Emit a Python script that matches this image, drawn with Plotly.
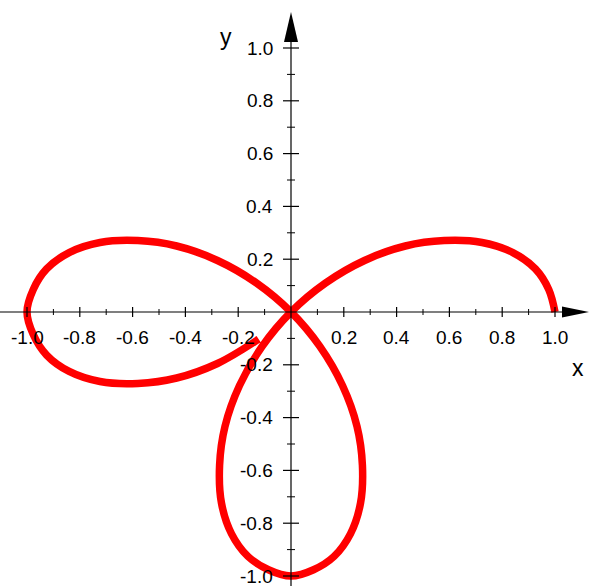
import numpy as np
import plotly.graph_objects as go

# Rose curve r(theta), sampled at 5 degree steps (theta in degrees)
theta_deg = [0, 5, 10, 15, 20, 25, 30, 35, 40, 45, 50, 55, 60, 65, 70, 75, 80, 85, 90,
             95, 100, 105, 110, 115, 120, 125, 130, 135, 140, 145, 150, 155, 160, 165,
             170, 175, 180, 185, 190, 195, 200, 205, 210, 215, 220]
r_vals = [1.00, 0.98, 0.94, 0.87, 0.77, 0.64, 0.50, 0.34, 0.17, 0.00, -0.17, -0.34, -0.50,
          -0.64, -0.77, -0.87, -0.94, -0.98, -1.00, -0.98, -0.94, -0.87, -0.77, -0.64,
          -0.50, -0.34, -0.17, 0.00, 0.17, 0.34, 0.50, 0.64, 0.77, 0.87, 0.94, 0.98,
          1.00, 0.98, 0.94, 0.87, 0.77, 0.64, 0.50, 0.34, 0.16]

tick_vals = [-1.0, -0.8, -0.6, -0.4, -0.2, 0.2, 0.4, 0.6, 0.8, 1.0]
tick_text = ["-1.0", "-0.8", "-0.6", "-0.4", "-0.2", "0.2", "0.4", "0.6", "0.8", "1.0"]
minor_vals = [-0.9, -0.7, -0.5, -0.3, -0.1, 0.1, 0.3, 0.5, 0.7, 0.9]

W, H = 589, 586
SCALE = 264.0          # pixels per unit on both axes
X0_PX, Y0_PX = 291, 312  # pixel position of the origin

t = np.radians(theta_deg)
r = np.array(r_vals)
xs = r * np.cos(t)
ys = r * np.sin(t)

fig = go.Figure()
fig.add_trace(go.Scatter(x=xs, y=ys, mode="lines",
                         line=dict(color="#ff0000", width=7.5, shape="spline", smoothing=1.0),
                         hoverinfo="skip"))

x_range = [-X0_PX / SCALE, (W - X0_PX) / SCALE]
y_range = [-(H - Y0_PX) / SCALE, Y0_PX / SCALE]

shapes = []
black = "#000000"
# axis lines
shapes.append(dict(type="line", xref="x", yref="y", x0=x_range[0], x1=1.03, y0=0, y1=0,
                   line=dict(color=black, width=1.2)))
shapes.append(dict(type="line", xref="x", yref="y", x0=0, x1=0, y0=y_range[0], y1=1.03,
                   line=dict(color=black, width=1.2)))

# arrow heads
x_tip = (W - X0_PX) / SCALE
shapes.append(dict(type="path", xref="x", yref="y", xsizemode="pixel", ysizemode="pixel",
                   xanchor=x_tip, yanchor=0, path="M 0 0 L -27 5.5 L -27 -5.5 Z",
                   fillcolor=black, line=dict(color=black, width=0)))
y_tip = (Y0_PX - 12) / SCALE
shapes.append(dict(type="path", xref="x", yref="y", xsizemode="pixel", ysizemode="pixel",
                   xanchor=0, yanchor=y_tip, path="M 0 0 L -7 -30 L 7 -30 Z",
                   fillcolor=black, line=dict(color=black, width=0)))

# tick marks
for v in tick_vals:
    shapes.append(dict(type="line", xref="x", yref="y", ysizemode="pixel", yanchor=0,
                       x0=v, x1=v, y0=-5, y1=5, line=dict(color=black, width=1.2)))
    shapes.append(dict(type="line", xref="x", yref="y", xsizemode="pixel", xanchor=0,
                       y0=v, y1=v, x0=-8, x1=8, line=dict(color=black, width=1.2)))
for v in minor_vals:
    shapes.append(dict(type="line", xref="x", yref="y", ysizemode="pixel", yanchor=0,
                       x0=v, x1=v, y0=-3, y1=3, line=dict(color=black, width=1)))
    shapes.append(dict(type="line", xref="x", yref="y", xsizemode="pixel", xanchor=0,
                       y0=v, y1=v, x0=-4, x1=4, line=dict(color=black, width=1)))

font = dict(family="Liberation Sans, Arial, sans-serif", size=19, color=black)
annotations = []
for v, txt in zip(tick_vals, tick_text):
    annotations.append(dict(x=v, y=0, xref="x", yref="y", text=txt, showarrow=False,
                            xanchor="center", yanchor="middle", yshift=-25, font=font))
    annotations.append(dict(x=0, y=v, xref="x", yref="y", text=txt, showarrow=False,
                            xanchor="right", yanchor="middle", xshift=-16, font=font))

label_font = dict(family="Liberation Sans, Arial, sans-serif", size=23, color=black)
annotations.append(dict(x=(578 - X0_PX) / SCALE, y=(Y0_PX - 368) / SCALE, xref="x", yref="y",
                        text="x", showarrow=False, xanchor="center", yanchor="middle",
                        font=label_font))
annotations.append(dict(x=(226 - X0_PX) / SCALE, y=(Y0_PX - 37) / SCALE, xref="x", yref="y",
                        text="y", showarrow=False, xanchor="center", yanchor="middle",
                        font=label_font))

fig.update_layout(
    width=W, height=H,
    margin=dict(l=0, r=0, t=0, b=0),
    paper_bgcolor="white", plot_bgcolor="white",
    showlegend=False,
    xaxis=dict(range=x_range, visible=False, fixedrange=True),
    yaxis=dict(range=y_range, visible=False, fixedrange=True),
    shapes=shapes,
    annotations=annotations,
)

fig.write_html("out.html")
